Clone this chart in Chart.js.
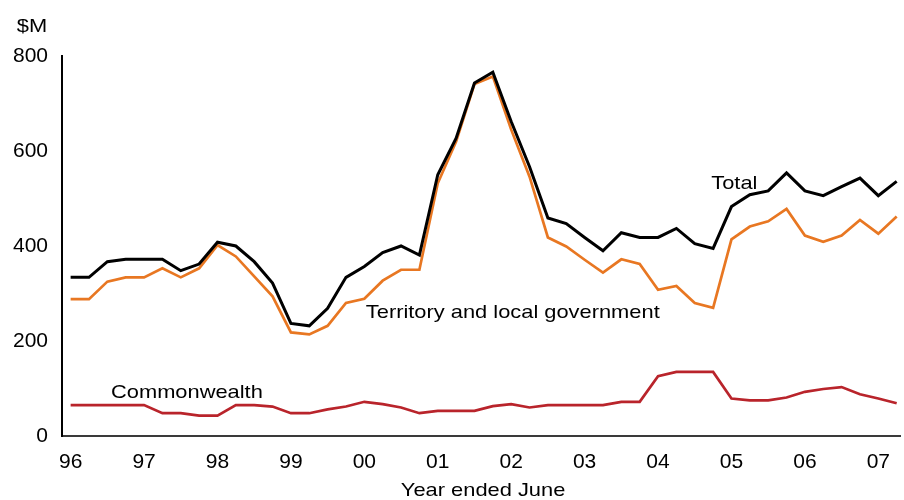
<!DOCTYPE html>
<html>
<head>
<meta charset="utf-8">
<script src="https://cdn.jsdelivr.net/npm/chart.js@4/dist/chart.umd.min.js"></script>
<style>
  html, body { margin: 0; padding: 0; background: #fff; }
  #wrap { width: 904px; height: 500px; position: relative; }
</style>
</head>
<body>
<div id="wrap"><canvas id="myChart"></canvas></div>
<script>
// year labels, one every 4 quarters (year ended June)
const yearLabels = ['96', '97', '98', '99', '00', '01', '02', '03', '04', '05', '06', '07'];

// quarterly values, $M
const total = [334, 334, 367, 372, 372, 372, 348, 362, 408, 400, 367, 322, 237,
  232, 269, 334, 357, 386, 400, 381,
  550, 627, 743, 766, 662, 567, 459, 447,
  418, 390, 428, 418, 418, 437, 405, 395,
  483, 508, 516, 554, 516, 506, 525, 543, 506, 536];

const territory = [288, 288, 325, 334, 334, 353, 334, 353, 402, 378, 336, 294, 218,
  214, 232, 280, 289, 327, 350, 350,
  532, 620, 741, 757, 645, 546, 418, 399,
  371, 344, 372, 362, 308, 316, 280, 270,
  414, 441, 452, 478, 422, 409, 422, 455, 426, 462];

const commonwealth = [65, 65, 65, 65, 65, 48, 48, 43, 43, 65, 65, 62, 48,
  48, 56, 62, 72, 67, 60, 48,
  53, 53, 53, 63, 67, 60, 65, 65,
  65, 65, 72, 72, 126, 135, 135, 135,
  79, 75, 75, 81, 93, 99, 103, 88, 79, 69];

const yTicks = [0, 200, 400, 600, 800];

function toPoints(arr) {
  return arr.map((v, i) => ({ x: i, y: v }));
}

const FONT = '"Liberation Sans", Arial, sans-serif';

// the reference text is a little wider than it is tall, so stretch it a bit
function stretchText(ctx, text, x, y, align) {
  ctx.save();
  ctx.translate(x, y);
  ctx.scale(1.15, 1);
  ctx.textAlign = align;
  ctx.fillText(text, 0, 0);
  ctx.restore();
}

// text labels drawn on the canvas
const labelPlugin = {
  id: 'labels',
  afterDraw(chart) {
    const ctx = chart.ctx;
    const xs = chart.scales.x;
    const ys = chart.scales.y;
    ctx.save();
    ctx.fillStyle = '#000';
    ctx.textBaseline = 'middle';
    ctx.font = '19px ' + FONT;
    stretchText(ctx, '$M', 32, 27, 'center');
    stretchText(ctx, 'Total', xs.getPixelForValue(34.9), ys.getPixelForValue(532), 'left');
    stretchText(ctx, 'Territory and local government', xs.getPixelForValue(16.08), ys.getPixelForValue(260), 'left');
    stretchText(ctx, 'Commonwealth', xs.getPixelForValue(2.2), ys.getPixelForValue(91), 'left');
    stretchText(ctx, 'Year ended June', (xs.left + xs.right) / 2 + 2, 491, 'center');
    ctx.restore();
  }
};

const ctx = document.getElementById('myChart').getContext('2d');
const myChart = new Chart(ctx, {
  type: 'line',
  data: {
    datasets: [
      {
        label: 'Total',
        data: toPoints(total),
        borderColor: '#000000',
        borderWidth: 3
      },
      {
        label: 'Territory and local government',
        data: toPoints(territory),
        borderColor: '#e87722',
        borderWidth: 2.7
      },
      {
        label: 'Commonwealth',
        data: toPoints(commonwealth),
        borderColor: '#b9242b',
        borderWidth: 2.7
      }
    ]
  },
  options: {
    responsive: true,
    maintainAspectRatio: false,
    animation: false,
    events: [],
    layout: { padding: { top: 56, left: 0, right: 0, bottom: 0 } },
    elements: {
      point: { radius: 0 },
      line: { tension: 0, borderJoinStyle: 'miter', fill: false }
    },
    plugins: {
      legend: { display: false },
      tooltip: { enabled: false }
    },
    scales: {
      x: {
        type: 'linear',
        min: -0.47,
        max: 45.19,
        grid: { display: false, drawTicks: false },
        border: { display: true, color: '#3a3a3a', width: 2 },
        afterBuildTicks(scale) {
          scale.ticks = yearLabels.map((_, i) => ({ value: i * 4 }));
        },
        afterFit(scale) { scale.height = 64; },
        ticks: {
          autoSkip: false,
          maxRotation: 0,
          padding: 14,
          color: '#000',
          font: { family: FONT, size: 21 },
          callback: (v) => yearLabels[v / 4]
        }
      },
      y: {
        min: 0,
        max: 800,
        grid: { display: false, drawTicks: false },
        border: { display: true, color: '#000000', width: 2 },
        afterBuildTicks(scale) {
          scale.ticks = yTicks.map((v) => ({ value: v }));
        },
        afterFit(scale) { scale.width = 62; },
        ticks: {
          padding: 14,
          color: '#000',
          font: { family: FONT, size: 21 }
        }
      }
    }
  },
  plugins: [labelPlugin]
});
</script>
</body>
</html>
